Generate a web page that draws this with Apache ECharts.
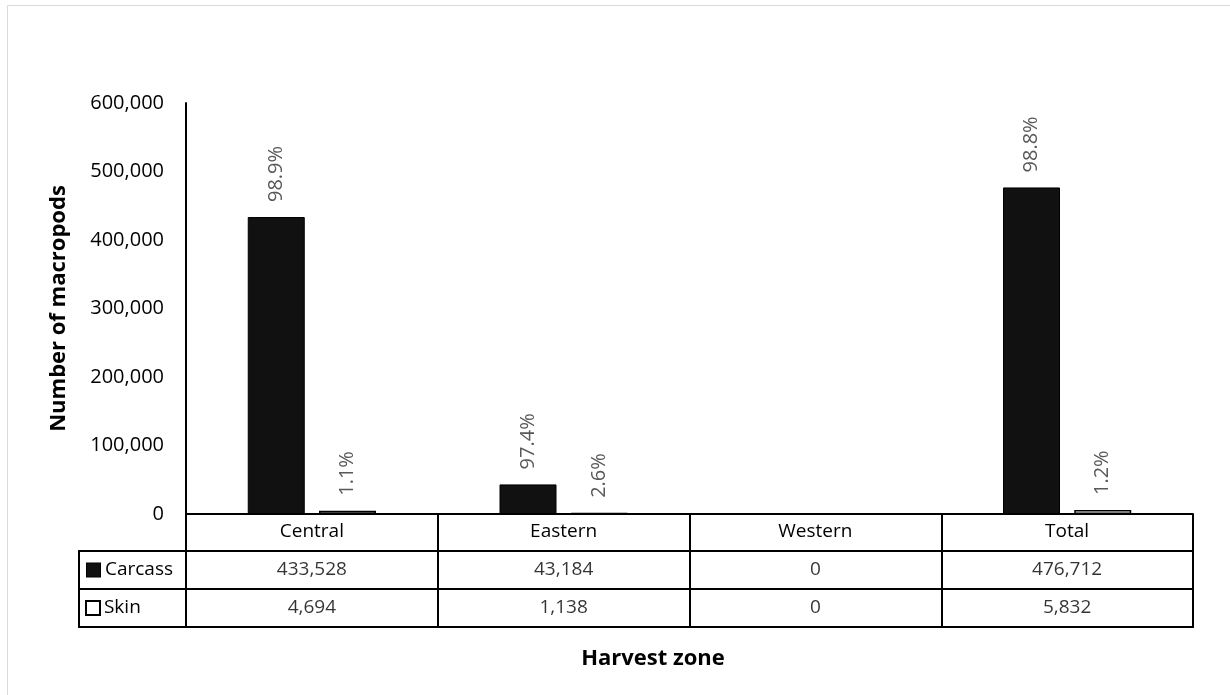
<!DOCTYPE html>
<html>
<head>
<meta charset="utf-8">
<script src="https://cdn.jsdelivr.net/npm/echarts@6/dist/echarts.min.js"></script>
<style>html,body{margin:0;padding:0;background:#fff;}#c{width:1230px;height:695px;}</style>
</head>
<body>
<div id="c"></div>
<script>
const categories = ['Central', 'Eastern', 'Western', 'Total'];
const rowNames = ['Carcass', 'Skin'];
const carcass = [433528, 43184, 0, 476712];
const skin = [4694, 1138, 0, 5832];
const carcassPct = ['98.9%', '97.4%', '', '98.8%'];
const skinPct = ['1.1%', '2.6%', '', '1.2%'];
const yTicks = [0, 100000, 200000, 300000, 400000, 500000, 600000];

const FONT = 'Open Sans';
const fmt = v => Number(v).toLocaleString('en-US');

const tableData = [];
categories.forEach((c, i) => {
  tableData.push([c, rowNames[0], carcass[i]]);
  tableData.push([c, rowNames[1], skin[i]]);
});

const chart = echarts.init(document.getElementById('c'), null, {renderer: 'canvas'});
const pctLabel = arr => ({
  show: true,
  position: 'top',
  rotate: 90,
  align: 'left',
  verticalAlign: 'middle',
  distance: 15,
  color: '#595959',
  fontFamily: FONT,
  fontSize: 20,
  formatter: p => arr[p.dataIndex]
});

chart.setOption({
  backgroundColor: '#fff',
  animation: false,
  textStyle: {fontFamily: FONT},
  grid: [
    {left: 186, top: 103, width: 1007, height: 411},
    {left: 186, top: 551, width: 1007, height: 76, show: true, borderColor: '#000', borderWidth: 2, backgroundColor: 'transparent'},
    {left: 79, top: 551, width: 107, height: 76, show: true, borderColor: '#000', borderWidth: 2, backgroundColor: 'transparent'}
  ],
  xAxis: [
    {
      type: 'category', gridIndex: 0, data: categories,
      axisLine: {show: true, lineStyle: {color: '#000', width: 2}},
      axisTick: {show: true, length: 37, lineStyle: {color: '#000', width: 2}},
      axisLabel: {color: '#000', fontSize: 19, fontFamily: FONT, margin: 8},
      splitLine: {show: false}
    },
    {
      type: 'category', gridIndex: 1, data: categories,
      axisLine: {show: false}, axisTick: {show: false}, axisLabel: {show: false},
      splitLine: {show: true, lineStyle: {color: '#000', width: 2}}
    },
    {
      type: 'category', gridIndex: 2, data: [''],
      axisLine: {show: false}, axisTick: {show: false}, axisLabel: {show: false},
      splitLine: {show: false}
    }
  ],
  yAxis: [
    {
      type: 'value', gridIndex: 0, min: 0, max: 600000, interval: 100000,
      axisLine: {show: true, lineStyle: {color: '#000', width: 2}},
      axisTick: {show: false},
      splitLine: {show: false},
      axisLabel: {color: '#000', fontSize: 20, fontFamily: FONT, margin: 22, formatter: v => fmt(v)},
      name: 'Number of macropods',
      nameLocation: 'middle',
      nameGap: 116,
      nameTextStyle: {color: '#000', fontSize: 22, fontWeight: 'bold', fontFamily: FONT}
    },
    {
      type: 'category', gridIndex: 1, data: rowNames, inverse: true,
      axisLine: {show: false}, axisTick: {show: false}, axisLabel: {show: false},
      splitLine: {show: true, lineStyle: {color: '#000', width: 2}}
    },
    {
      type: 'category', gridIndex: 2, data: rowNames, inverse: true,
      axisLine: {show: false}, axisTick: {show: false},
      splitLine: {show: true, lineStyle: {color: '#000', width: 2}},
      axisLabel: {
        inside: true, margin: 8, color: '#000', fontSize: 19, fontFamily: FONT, align: 'left',
        formatter: (v, i) => (i === 0 ? '{a|}' : '{b|}') + ' ' + v,
        rich: {
          a: {width: 13, height: 13, backgroundColor: '#111', borderColor: '#000', borderWidth: 1},
          b: {width: 12, height: 12, backgroundColor: '#fff', borderColor: '#000', borderWidth: 2}
        }
      }
    }
  ],
  series: [
    {
      name: 'Carcass', type: 'bar', xAxisIndex: 0, yAxisIndex: 0,
      data: carcass, barWidth: 57, barGap: '25%',
      itemStyle: {color: '#111', borderColor: '#000', borderWidth: 1},
      label: pctLabel(carcassPct), silent: true
    },
    {
      name: 'Skin', type: 'bar', xAxisIndex: 0, yAxisIndex: 0,
      data: skin, barWidth: 57,
      itemStyle: {color: '#fff', borderColor: '#000', borderWidth: 1.5},
      label: pctLabel(skinPct), silent: true
    },
    {
      name: 'table', type: 'scatter', xAxisIndex: 1, yAxisIndex: 1,
      data: tableData, symbolSize: 1, itemStyle: {color: 'transparent'}, silent: true,
      label: {show: true, position: 'inside', color: '#000', fontSize: 19, fontFamily: FONT,
        formatter: p => fmt(p.value[2])}
    }
  ],
  graphic: [
    {type: 'rect', shape: {x: 7.5, y: 5.5, width: 1240, height: 700}, style: {fill: 'none', stroke: '#d9d9d9', lineWidth: 1}, silent: true},
    {type: 'text', x: 653, y: 659, style: {text: 'Harvest zone', fill: '#000', font: 'bold 22px "Open Sans"', textAlign: 'center', textVerticalAlign: 'middle'}, silent: true}
  ]
});
</script>
</body>
</html>
